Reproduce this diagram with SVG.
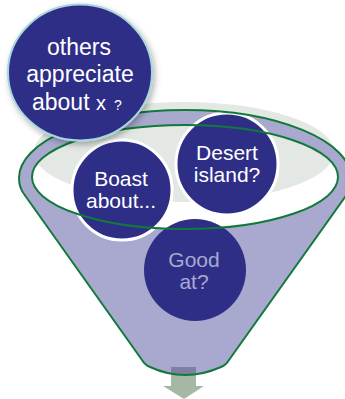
<svg xmlns="http://www.w3.org/2000/svg" width="345" height="399" viewBox="0 0 345 399">
  <style>
    .ball { fill: #2E2E87; }
    .ringed { stroke: #FFFFFF; stroke-width: 3; }
    .label { font-family: "Liberation Sans", Arial, sans-serif; fill: #FFFFFF; text-anchor: middle; }
    .muted { fill: #A9A9CF; }
    .outline { fill: none; stroke: #117A3A; stroke-width: 2; }
  </style>
  <defs>
    <path id="funnelShape" d="M19,178 A166,68 0 0 1 351,178 C351,185 349,191 345,197 L229,360 Q226,365 221,367 Q185,383 150,367 Q145,365 142,360 L24,194 C21,190 19,184 19,178 Z"/>
    <clipPath id="funnelClip">
      <use href="#funnelShape"/>
    </clipPath>
    <filter id="lift" x="-20%" y="-20%" width="150%" height="150%">
      <feDropShadow dx="2" dy="3" stdDeviation="3" flood-color="#000000" flood-opacity="0.3"/>
    </filter>
  </defs>

  <!-- contents heap behind the funnel mouth -->
  <ellipse cx="184" cy="152" rx="150" ry="50" fill="#E3E8E4"/>

  <!-- funnel body with the open mouth cut out -->
  <g id="funnel">
    <path fill="#A9A9CF" fill-rule="evenodd"
          d="M19,178 A166,68 0 0 1 351,178 C351,185 349,191 345,197 L229,360 Q226,365 221,367 Q185,383 150,367 Q145,365 142,360 L24,194 C21,190 19,184 19,178 Z
             M32,177 A153,52 0 0 0 338,177 A153,52 0 0 0 32,177 Z"/>
  </g>

  <!-- outlet arrow -->
  <g id="outlet">
    <path fill="#A5B8A5" d="M171,367 H196 V386 H204 L184,399 L163,386 H171 Z"/>
    <path fill="#7E80A2" clip-path="url(#funnelClip)" d="M171,367 H196 V386 H171 Z"/>
  </g>

  <g id="node-boast">
    <circle class="ball ringed" cx="122" cy="190" r="50"/>
    <text class="label" font-size="21"><tspan x="121" y="186">Boast</tspan><tspan x="121" y="208">about...</tspan></text>
  </g>

  <g id="node-desert">
    <circle class="ball ringed" cx="227" cy="164" r="51"/>
    <text class="label" font-size="21"><tspan x="227" y="160">Desert</tspan><tspan x="227" y="182">island?</tspan></text>
  </g>

  <g id="node-good">
    <circle class="ball" cx="195" cy="270" r="51"/>
    <text class="label muted" font-size="21"><tspan x="194" y="267">Good</tspan><tspan x="194" y="289">at?</tspan></text>
  </g>

  <!-- funnel outlines drawn over the inner balls -->
  <g id="funnel-lines">
    <use href="#funnelShape" class="outline"/>
    <ellipse class="outline" cx="185" cy="177" rx="153" ry="52"/>
  </g>

  <g id="node-others">
    <ellipse cx="80" cy="72.5" rx="72" ry="68" fill="#2E2E87" stroke="#A9D5DD" stroke-width="2" filter="url(#lift)"/>
    <text class="label" font-size="23"><tspan x="79" y="55">others</tspan><tspan x="80" y="82">appreciate</tspan></text>
    <text font-family="Liberation Sans, Arial, sans-serif" fill="#FFFFFF" y="110"><tspan x="32" font-size="23">about</tspan><tspan x="96" font-size="20">x</tspan><tspan x="114" font-size="14">?</tspan></text>
  </g>
</svg>
